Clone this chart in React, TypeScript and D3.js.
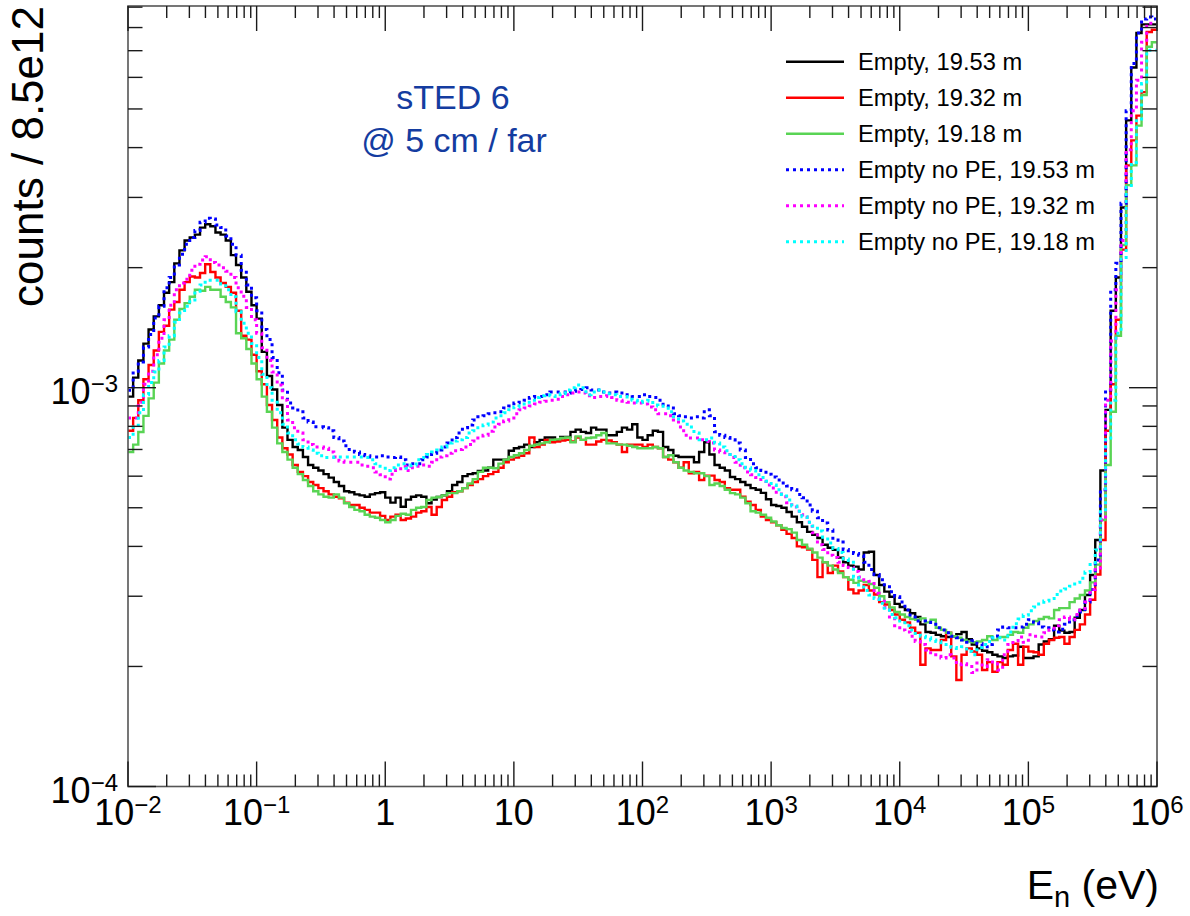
import React from "react";
import * as d3 from "d3";

const W = 1190;
const H = 916;

// Histogram binning: log-uniform bins from 1e-2 eV to 1e6 eV
const E_MIN = 1e-2;
const E_MAX = 1e6;
const BINS_PER_DECADE = 25;

// Bin contents are stored in units of 1e-4 (counts / 8.5e12)
const UNIT = 1e-4;

const empty1953 = [
  9.5, 10.6, 11.7, 12.9, 14.0, 15.1, 16.1, 17.3, 18.4, 20.5,
  22.1, 23.4, 23.8, 24.2, 25.2, 25.7, 25.4, 24.5, 24.2, 23.4,
  21.5, 20.3, 18.9, 17.4, 16.1, 14.9, 12.3, 10.7, 9.9, 9.05,
  7.94, 7.4, 7.1, 6.98, 6.7, 6.4, 6.3, 6.2, 6.07, 5.95,
  5.8, 5.67, 5.5, 5.47, 5.4, 5.37, 5.33, 5.4, 5.44, 5.47,
  5.3, 5.15, 5.3, 5.03, 5.24, 5.33, 5.37, 5.33, 5.13, 5.24,
  5.32, 5.37, 5.5, 5.7, 5.8, 6.0, 6.07, 6.1, 6.18, 6.2,
  6.3, 6.6, 6.6, 6.6, 6.95, 7.05, 7.1, 7.2, 7.1, 7.3,
  7.4, 7.5, 7.5, 7.4, 7.53, 7.53, 7.75, 7.85, 7.75, 7.7,
  7.94, 7.85, 7.85, 7.6, 7.6, 7.75, 7.94, 7.85, 8.1, 7.5,
  7.4, 7.6, 7.8, 7.75, 7.1, 6.98, 6.75, 6.7, 6.7, 6.7,
  6.5, 6.9, 7.3, 6.8, 6.4, 6.3, 6.2, 5.97, 5.9, 5.8,
  5.7, 5.6, 5.55, 5.45, 5.25, 5.08, 5.05, 5.0, 4.88, 4.75,
  4.6, 4.48, 4.35, 4.28, 4.2, 4.04, 3.97, 3.92, 3.75, 3.65,
  3.58, 3.56, 3.5, 3.86, 3.88, 3.39, 3.2, 3.08, 2.99, 2.87,
  2.82, 2.77, 2.72, 2.66, 2.55, 2.44, 2.43, 2.4, 2.38, 2.37,
  2.38, 2.41, 2.44, 2.34, 2.27, 2.22, 2.19, 2.17, 2.14, 2.12,
  2.1, 2.12, 2.13, 2.24, 2.1, 2.1, 2.12, 2.27, 2.31, 2.34,
  2.53, 2.46, 2.43, 2.44, 2.65, 2.77, 3.02, 3.39, 4.15, 6.2,
  8.8, 15.6, 18.9, 28.3, 46.8, 63.5, 77.5, 81.5, 81.5, 81.5,
];

const empty1932 = [
  7.8, 8.4, 9.3, 10.5, 11.4, 12.4, 13.8, 14.3, 15.7, 16.4,
  17.6, 18.4, 19.0, 18.9, 19.4, 20.4, 19.5, 18.9, 18.3, 17.9,
  17.3, 15.6, 13.5, 13.2, 12.1, 11.0, 10.2, 9.05, 8.3, 7.5,
  7.05, 6.8, 6.4, 6.15, 6.0, 5.8, 5.7, 5.6, 5.5, 5.4,
  5.33, 5.28, 5.15, 5.08, 5.08, 5.0, 4.94, 4.86, 4.86, 4.77,
  4.66, 4.75, 4.8, 4.66, 4.7, 4.75, 4.86, 4.9, 5.02, 4.8,
  5.02, 5.23, 5.33, 5.47, 5.5, 5.6, 5.7, 5.8, 5.9, 6.0,
  6.07, 6.15, 6.3, 6.5, 6.6, 6.68, 6.75, 6.85, 7.5, 7.1,
  7.2, 7.4, 7.3, 7.33, 7.37, 7.4, 7.33, 7.5, 7.4, 7.2,
  7.2, 7.33, 7.4, 7.37, 7.3, 7.2, 6.9, 7.2, 7.2, 7.2,
  7.1, 7.2, 7.1, 7.05, 6.7, 6.6, 6.5, 6.3, 6.5, 6.1,
  6.15, 5.87, 6.02, 6.02, 5.87, 5.8, 5.6, 5.55, 5.55, 5.33,
  5.18, 5.08, 4.94, 4.75, 4.66, 4.6, 4.52, 4.4, 4.3, 4.2,
  4.0, 3.98, 3.93, 3.7, 3.35, 3.65, 3.43, 3.58, 3.46, 3.35,
  3.12, 3.05, 3.1, 3.2, 3.1, 3.03, 2.9, 2.86, 2.77, 2.7,
  2.62, 2.58, 2.5, 2.43, 2.02, 2.22, 2.2, 2.2, 2.33, 2.43,
  2.12, 1.85, 2.14, 2.22, 2.18, 2.14, 1.96, 2.05, 1.94, 2.05,
  2.02, 2.2, 2.28, 2.02, 2.24, 2.18, 2.17, 2.14, 2.28, 2.33,
  2.36, 2.37, 2.28, 2.37, 2.47, 2.55, 2.7, 2.94, 3.4, 4.15,
  7.8, 10.2, 14.8, 22.2, 36.1, 41.7, 48.1, 55.1, 78, 79,
];

const empty1918 = [
  6.9, 7.2, 7.74, 8.5, 9.4, 10.3, 11.5, 12.4, 13.2, 14.8,
  15.75, 16.3, 16.9, 17.6, 17.5, 17.9, 17.6, 17.6, 16.9, 16.4,
  15.9, 13.7, 13.3, 12.5, 11.5, 10.5, 9.5, 8.7, 7.94, 7.25,
  6.9, 6.6, 6.3, 6.07, 5.87, 5.67, 5.5, 5.4, 5.33, 5.3,
  5.4, 5.3, 5.13, 5.02, 4.94, 4.9, 4.8, 4.75, 4.72, 4.66,
  4.6, 4.66, 4.77, 4.83, 4.8, 4.94, 5.0, 5.02, 5.23, 5.3,
  5.32, 5.37, 5.44, 5.44, 5.5, 5.6, 5.75, 5.9, 6.15, 6.3,
  6.3, 6.28, 6.45, 6.6, 6.7, 6.77, 6.85, 6.98, 7.15, 7.2,
  7.25, 7.3, 7.4, 7.42, 7.48, 7.5, 7.3, 7.55, 7.4, 7.48,
  7.5, 7.6, 7.7, 7.25, 7.25, 7.2, 7.2, 7.15, 7.1, 7.05,
  7.05, 7.05, 7.1, 7.05, 6.7, 6.77, 6.5, 6.3, 6.2, 6.15,
  6.1, 6.1, 6.0, 5.7, 5.75, 5.67, 5.55, 5.44, 5.4, 5.3,
  5.13, 4.9, 4.86, 4.8, 4.72, 4.62, 4.52, 4.45, 4.42, 4.33,
  4.15, 4.04, 3.95, 3.86, 3.75, 3.65, 3.58, 3.5, 3.43, 3.35,
  3.3, 3.24, 3.28, 3.26, 3.22, 3.15, 3.0, 2.9, 2.81, 2.74,
  2.7, 2.66, 2.63, 2.62, 2.64, 2.58, 2.62, 2.5, 2.47, 2.43,
  2.38, 2.36, 2.33, 2.31, 2.3, 2.31, 2.33, 2.38, 2.33, 2.37,
  2.37, 2.4, 2.44, 2.43, 2.5, 2.55, 2.6, 2.63, 2.66, 2.64,
  2.77, 2.8, 2.8, 2.9, 2.96, 3.02, 3.1, 3.25, 3.6, 4.66,
  6.4, 8.7, 13.5, 22.8, 32.2, 36.1, 45.4, 54.2, 71.6, 73.5,
];

const noPE1953 = [
  9.85, 11.0, 11.6, 12.65, 13.6, 14.95, 16.0, 17.8, 18.9, 20.3,
  21.6, 22.9, 23.8, 24.8, 26.0, 26.6, 26.5, 25.6, 25.2, 24.0,
  22.9, 21.5, 19.7, 18.1, 16.8, 15.6, 14.0, 13.2, 11.9, 10.9,
  9.87, 9.15, 8.9, 8.7, 8.4, 8.2, 7.98, 7.98, 7.94, 7.8,
  7.5, 7.35, 7.15, 7.0, 6.9, 6.8, 6.75, 6.7, 6.7, 6.75,
  6.7, 6.68, 6.7, 6.6, 6.4, 6.45, 6.45, 6.6, 6.7, 6.85,
  6.98, 7.1, 7.27, 7.5, 7.7, 7.94, 8.06, 8.3, 8.45, 8.5,
  8.6, 8.65, 8.7, 8.9, 9.0, 9.15, 9.2, 9.3, 9.45, 9.5,
  9.5, 9.6, 9.75, 9.75, 9.75, 9.7, 9.8, 9.87, 9.9, 10.0,
  9.87, 9.87, 9.75, 9.7, 9.75, 9.7, 9.6, 9.6, 9.5, 9.5,
  9.6, 9.5, 9.45, 9.3, 9.0, 8.9, 8.6, 8.5, 8.45, 8.4,
  8.45, 8.4, 8.8, 8.5, 7.75, 7.6, 7.5, 7.4, 7.27, 6.98,
  6.68, 6.45, 6.3, 6.2, 6.07, 5.97, 5.87, 5.77, 5.67, 5.55,
  5.4, 5.3, 5.08, 4.9, 4.72, 4.58, 4.4, 4.15, 4.1, 3.93,
  3.86, 3.84, 3.8, 3.65, 3.5, 3.4, 3.3, 3.17, 3.08, 2.99,
  2.9, 2.77, 2.66, 2.6, 2.6, 2.58, 2.55, 2.5, 2.47, 2.43,
  2.38, 2.36, 2.33, 2.3, 2.32, 2.28, 2.24, 2.27, 2.36, 2.47,
  2.51, 2.5, 2.5, 2.51, 2.55, 2.62, 2.58, 2.51, 2.5, 2.47,
  2.44, 2.48, 2.55, 2.62, 2.68, 2.74, 2.9, 3.12, 3.7, 5.55,
  9.87, 17.6, 20.5, 29.0, 49.5, 65.0, 77.5, 84, 85, 84,
];

const noPE1932 = [
  8.4, 8.4, 9.2, 10.2, 11.0, 12.1, 13.3, 14.8, 16.1, 17.6,
  18.3, 18.7, 19.7, 20.4, 20.9, 21.3, 20.6, 20.3, 20.0, 19.6,
  18.9, 17.8, 16.95, 15.9, 14.8, 13.7, 12.6, 11.7, 10.95, 10.15,
  9.3, 8.3, 7.94, 7.7, 7.4, 7.2, 7.1, 7.1, 7.05, 6.9,
  6.7, 6.55, 6.5, 6.5, 6.5, 6.4, 6.35, 6.3, 6.15, 6.05,
  5.9, 6.07, 6.2, 6.35, 6.2, 6.3, 6.35, 6.4, 6.35, 6.5,
  6.7, 6.75, 6.85, 6.95, 7.0, 7.1, 7.2, 7.35, 7.48, 7.6,
  7.78, 7.97, 8.1, 8.25, 8.4, 8.6, 8.8, 8.9, 9.0, 9.1,
  9.2, 9.25, 9.3, 9.35, 9.5, 9.6, 9.7, 9.75, 9.7, 9.55,
  9.45, 9.5, 9.5, 9.55, 9.45, 9.3, 9.25, 9.2, 9.15, 9.15,
  9.1, 8.95, 8.8, 8.6, 8.6, 8.5, 8.3, 7.97, 7.6, 7.48,
  7.48, 7.4, 7.33, 7.27, 6.98, 6.9, 6.8, 6.68, 6.5, 6.3,
  6.15, 6.05, 5.95, 5.83, 5.7, 5.6, 5.47, 5.33, 5.15, 5.02,
  4.9, 4.8, 4.6, 4.33, 4.04, 3.93, 3.8, 3.75, 3.65, 3.58,
  3.54, 3.46, 3.35, 3.3, 3.27, 3.05, 2.95, 2.81, 2.66, 2.53,
  2.47, 2.44, 2.38, 2.31, 2.27, 2.2, 2.14, 2.12, 2.1, 2.14,
  2.1, 2.02, 2.03, 2.02, 1.93, 2.04, 2.0, 2.08, 2.03, 1.96,
  2.14, 2.27, 2.32, 2.37, 2.3, 2.4, 2.38, 2.37, 2.43, 2.47,
  2.53, 2.62, 2.66, 2.62, 2.7, 2.77, 2.9, 3.12, 3.5, 4.66,
  9.3, 13.1, 17.6, 23.4, 39.5, 49.5, 59, 73.5, 82, 82,
];

const noPE1918 = [
  7.5, 7.97, 8.65, 9.6, 10.3, 10.95, 11.7, 12.65, 13.5, 14.6,
  15.4, 16.0, 16.6, 17.45, 18.1, 18.6, 18.6, 18.6, 18.2, 17.6,
  16.9, 15.5, 14.5, 13.7, 12.9, 11.9, 10.8, 10.0, 9.3, 8.65,
  8.1, 7.7, 7.4, 7.22, 7.1, 6.98, 6.85, 6.75, 6.68, 6.68,
  6.7, 6.7, 6.7, 6.7, 6.7, 6.7, 6.68, 6.6, 6.45, 6.35,
  6.2, 6.3, 6.4, 6.45, 6.28, 6.4, 6.6, 6.68, 6.8, 6.9,
  6.98, 7.1, 7.27, 7.35, 7.4, 7.5, 7.7, 7.8, 7.94, 8.06,
  8.2, 8.4, 8.5, 8.65, 8.8, 8.95, 9.1, 9.2, 9.3, 9.45,
  9.55, 9.6, 9.55, 9.5, 9.65, 9.87, 10.0, 10.15, 10.0, 9.6,
  9.75, 9.87, 9.75, 9.65, 9.6, 9.5, 9.5, 9.35, 9.3, 9.2,
  9.25, 9.3, 9.05, 9.0, 8.9, 8.7, 8.45, 8.25, 8.1, 7.97,
  7.7, 7.4, 7.4, 7.48, 7.27, 7.1, 6.95, 6.8, 6.6, 6.45,
  6.3, 6.2, 6.05, 5.95, 5.83, 5.7, 5.55, 5.4, 5.23, 5.05,
  4.9, 4.75, 4.6, 4.5, 4.37, 4.22, 4.08, 3.95, 3.86, 3.72,
  3.65, 3.34, 3.2, 3.1, 3.02, 2.96, 2.88, 2.77, 2.7, 2.65,
  2.6, 2.53, 2.47, 2.42, 2.38, 2.36, 2.33, 2.31, 2.27, 2.24,
  2.23, 2.22, 2.24, 2.18, 2.14, 2.23, 2.27, 2.31, 2.36, 2.36,
  2.33, 2.44, 2.56, 2.63, 2.69, 2.76, 2.82, 2.87, 2.92, 2.96,
  3.03, 3.09, 3.13, 3.18, 3.25, 3.33, 3.45, 3.64, 3.92, 4.94,
  7.4, 9.3, 13.7, 21.2, 31.8, 36.7, 46.7, 57.9, 70.2, 70.2,
];

const seriesLabels = [
  "Empty, 19.53 m",
  "Empty, 19.32 m",
  "Empty, 19.18 m",
  "Empty no PE, 19.53 m",
  "Empty no PE, 19.32 m",
  "Empty no PE, 19.18 m",
];
const seriesValues = [empty1953, empty1932, empty1918, noPE1953, noPE1932, noPE1918];
const seriesColors = ["#000000", "#ff0000", "#59d454", "#0000ff", "#ff00ff", "#00ffff"];
const seriesDotted = [false, false, false, true, true, true];

// Axis ticks (decade exponents)
const xMajorExps = [-2, -1, 0, 1, 2, 3, 4, 5, 6];
const yMajorExps = [-4, -3];
const Y_MIN = 1e-4;
const Y_MAX = 9.06e-3;

const FONT = "'Liberation Sans', Arial, Helvetica, sans-serif";

// frame geometry
const FL = 128;
const FR = 1157;
const FT = 6;
const FB = 786.5;

function PowerLabel({ x, y, exp, anchor, size, supSize }: { x: number; y: number; exp: number; anchor: string; size: number; supSize: number }) {
  if (exp === 0 || exp === 1) {
    return (
      <text x={x} y={y} textAnchor={anchor} fontSize={size} fontFamily={FONT} fill="#000">
        {exp === 0 ? "1" : "10"}
      </text>
    );
  }
  const sup = exp < 0 ? `\u2212${-exp}` : `${exp}`;
  return (
    <text x={x} y={y} textAnchor={anchor} fontSize={size} fontFamily={FONT} fill="#000">
      10
      <tspan dy={-12} fontSize={supSize}>{sup}</tspan>
    </text>
  );
}

export default function App() {
  const x = d3.scaleLog().domain([E_MIN, E_MAX]).range([FL, FR]);
  const y = d3.scaleLog().domain([Y_MIN, Y_MAX]).range([FB, FT]);

  const nBins = empty1953.length;
  const edges = d3.range(nBins + 1).map((i) => E_MIN * Math.pow(10, i / BINS_PER_DECADE));

  const line = d3
    .line<[number, number]>()
    .x((d) => d[0])
    .y((d) => d[1])
    .curve(d3.curveStepAfter);

  const histPath = (vals: number[]) => {
    const pts: [number, number][] = vals.map((v, i) => [x(edges[i]), y(v * UNIT)]);
    pts.push([x(edges[vals.length]), y(vals[vals.length - 1] * UNIT)]);
    return line(pts) || "";
  };

  // minor ticks
  const xMinor: number[] = [];
  for (let k = -2; k < 6; k++) for (let m = 2; m <= 9; m++) xMinor.push(m * Math.pow(10, k));
  const yMinor: number[] = [];
  for (let k = -4; k <= -3; k++)
    for (let m = 2; m <= 9; m++) {
      const v = m * Math.pow(10, k);
      if (v <= Y_MAX) yMinor.push(v);
    }

  const tickColor = "#1a1a1a";
  const legendY0 = 61.7;
  const legendDY = 36;

  return (
    <svg
      width={W}
      height={H}
      viewBox={`0 0 ${W} ${H}`}
      style={{ position: "absolute", left: 0, top: 0, background: "#fff" }}
    >
      <rect x={0} y={0} width={W} height={H} fill="#fff" />
      <defs>
        <clipPath id="frame-clip">
          <rect x={FL} y={FT} width={FR - FL} height={FB - FT} />
        </clipPath>
      </defs>

      {/* histograms */}
      <g clipPath="url(#frame-clip)" fill="none">
        {seriesValues.map((vals, i) => (
          <path
            key={seriesLabels[i]}
            d={histPath(vals)}
            stroke={seriesColors[i]}
            strokeWidth={seriesDotted[i] ? 3 : 2.4}
            strokeDasharray={seriesDotted[i] ? "3 4" : undefined}
            strokeLinecap="butt"
            strokeLinejoin="miter"
          />
        ))}
      </g>

      {/* frame */}
      <rect x={FL} y={FT} width={FR - FL} height={FB - FT} fill="none" stroke="#555" strokeWidth={1.6} />

      {/* ticks on all four sides */}
      <g stroke={tickColor} strokeWidth={1.4}>
        {xMajorExps.map((e) => {
          const px = x(Math.pow(10, e));
          return (
            <g key={`xM${e}`}>
              <line x1={px} x2={px} y1={FB} y2={FB - 25} />
              <line x1={px} x2={px} y1={FT} y2={FT + 25} />
            </g>
          );
        })}
        {xMinor.map((v, i) => {
          const px = x(v);
          return (
            <g key={`xm${i}`}>
              <line x1={px} x2={px} y1={FB} y2={FB - 12} />
              <line x1={px} x2={px} y1={FT} y2={FT + 12} />
            </g>
          );
        })}
        {yMajorExps.map((e) => {
          const py = y(Math.pow(10, e));
          return (
            <g key={`yM${e}`}>
              <line x1={FL} x2={FL + 28} y1={py} y2={py} />
              <line x1={FR} x2={FR - 28} y1={py} y2={py} />
            </g>
          );
        })}
        {yMinor.map((v, i) => {
          const py = y(v);
          return (
            <g key={`ym${i}`}>
              <line x1={FL} x2={FL + 14.5} y1={py} y2={py} />
              <line x1={FR} x2={FR - 14.5} y1={py} y2={py} />
            </g>
          );
        })}
      </g>

      {/* tick labels */}
      {xMajorExps.map((e) => (
        <PowerLabel key={`xl${e}`} x={x(Math.pow(10, e))} y={825} exp={e} anchor="middle" size={36} supSize={24} />
      ))}
      {yMajorExps.map((e) => (
        <PowerLabel key={`yl${e}`} x={118} y={y(Math.pow(10, e)) + 16} exp={e} anchor="end" size={36} supSize={24} />
      ))}

      {/* axis titles */}
      <text x={FR + 2} y={899} textAnchor="end" fontSize={41} fontFamily={FONT} fill="#000">
        E
        <tspan dy={8} fontSize={29}>n</tspan>
        <tspan dy={-8}> (eV)</tspan>
      </text>
      <text
        transform={`translate(43, ${FT}) rotate(-90)`}
        textAnchor="end"
        fontSize={44}
        fontFamily={FONT}
        fill="#000"
      >
        counts / 8.5e12
      </text>

      {/* detector annotation */}
      <g fontFamily={FONT} fontSize={34} fill="#143ca0" textAnchor="middle">
        <text x={453} y={109}>sTED 6</text>
        <text x={454} y={152}>@ 5 cm / far</text>
      </g>

      {/* legend */}
      <g fontFamily={FONT} fontSize={23.7} fill="#000">
        {seriesLabels.map((lab, i) => {
          const ly = legendY0 + i * legendDY;
          return (
            <g key={`lg${i}`}>
              <line
                x1={786}
                x2={844}
                y1={ly}
                y2={ly}
                stroke={seriesColors[i]}
                strokeWidth={seriesDotted[i] ? 3 : 2.4}
                strokeDasharray={seriesDotted[i] ? "3 4" : undefined}
              />
              <text x={858} y={ly + 8.5}>{lab}</text>
            </g>
          );
        })}
      </g>
    </svg>
  );
}
